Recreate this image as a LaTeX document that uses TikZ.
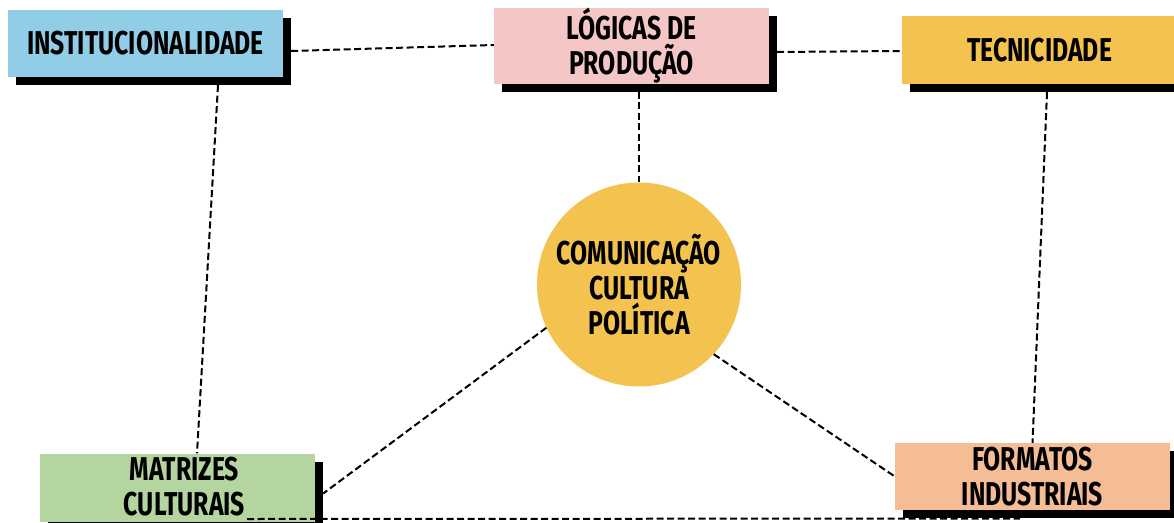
\documentclass[tikz,border=0pt]{standalone}
\usepackage{fontspec}
\setmainfont[FakeStretch=0.75]{Fira Sans}
\usetikzlibrary{shadows,calc}
\definecolor{cblue}{HTML}{92CDE7}
\definecolor{cpink}{HTML}{F4C6C6}
\definecolor{cyellow}{HTML}{F4C24E}
\definecolor{cgreen}{HTML}{B4D4A0}
\definecolor{cpeach}{HTML}{F5BD95}
\begin{document}
\begin{tikzpicture}[x=1pt,y=-1pt,
  box/.style={rectangle, minimum width=275pt, minimum height=67pt, inner sep=0pt,
    align=center, font=\fontsize{33}{35}\selectfont\bfseries,
    general shadow={fill=black, shadow xshift=8pt, shadow yshift=-8pt}},
  hub/.style={circle, minimum size=204pt, inner sep=0pt, fill=cyellow,
    align=center, font=\fontsize{33}{35}\selectfont\bfseries},
  link/.style={draw=black, dash pattern=on 7pt off 3.5pt, line width=2pt}]
\fill[white] (0,0) rectangle (1174,522);
\useasboundingbox (0,0) rectangle (1174,522);

% nodes
\node[box, fill=cblue]   (inst) at (145.5,43.5) {INSTITUCIONALIDADE};
\node[box, fill=cpink, minimum height=68pt]  (log)  at (631.5,46) {LÓGICAS DE\\PRODUÇÃO};
\node[box, fill=cyellow, minimum height=68pt] (tec) at (1039.5,50) {TECNICIDADE};
\node[box, fill=cgreen, minimum height=68pt]  (mat)  at (177.5,487.5) {\raisebox{2pt}{\hspace*{14pt}MATRIZES}\\\raisebox{2pt}{\hspace*{14pt}CULTURAIS}};
\node[box, fill=cpeach]  (form) at (1032.5,476.5) {FORMATOS\\INDUSTRIAIS};
\node[hub] (circ) at (639,284.5) {COMUNICAÇÃO\\CULTURA\\POLÍTICA};

% connectors
\draw[link] ([xshift=8pt,yshift=-7.5pt]inst.east) -- ([yshift=1pt]log.west);
\draw[link] ([xshift=8pt,yshift=-6pt]log.east) -- ([yshift=-1pt]tec.west);
\draw[link] ([xshift=72.5pt,yshift=-8pt]inst.south) -- ([xshift=19.5pt]mat.north);
\draw[link] ([xshift=7.5pt,yshift=-8pt]log.south) -- (circ.north);
\draw[link] ([xshift=7.5pt,yshift=-8pt]tec.south) -- (form.north);
\draw[link] (circ.205) -- ([xshift=8pt,yshift=-6pt]mat.east);
\draw[link] (circ.-43) -- (form.west);
\draw[link] ([xshift=69.5pt,yshift=-31.5pt]mat.center) -- ([xshift=-12.5pt,yshift=-42pt]form.center);
\end{tikzpicture}
\end{document}
